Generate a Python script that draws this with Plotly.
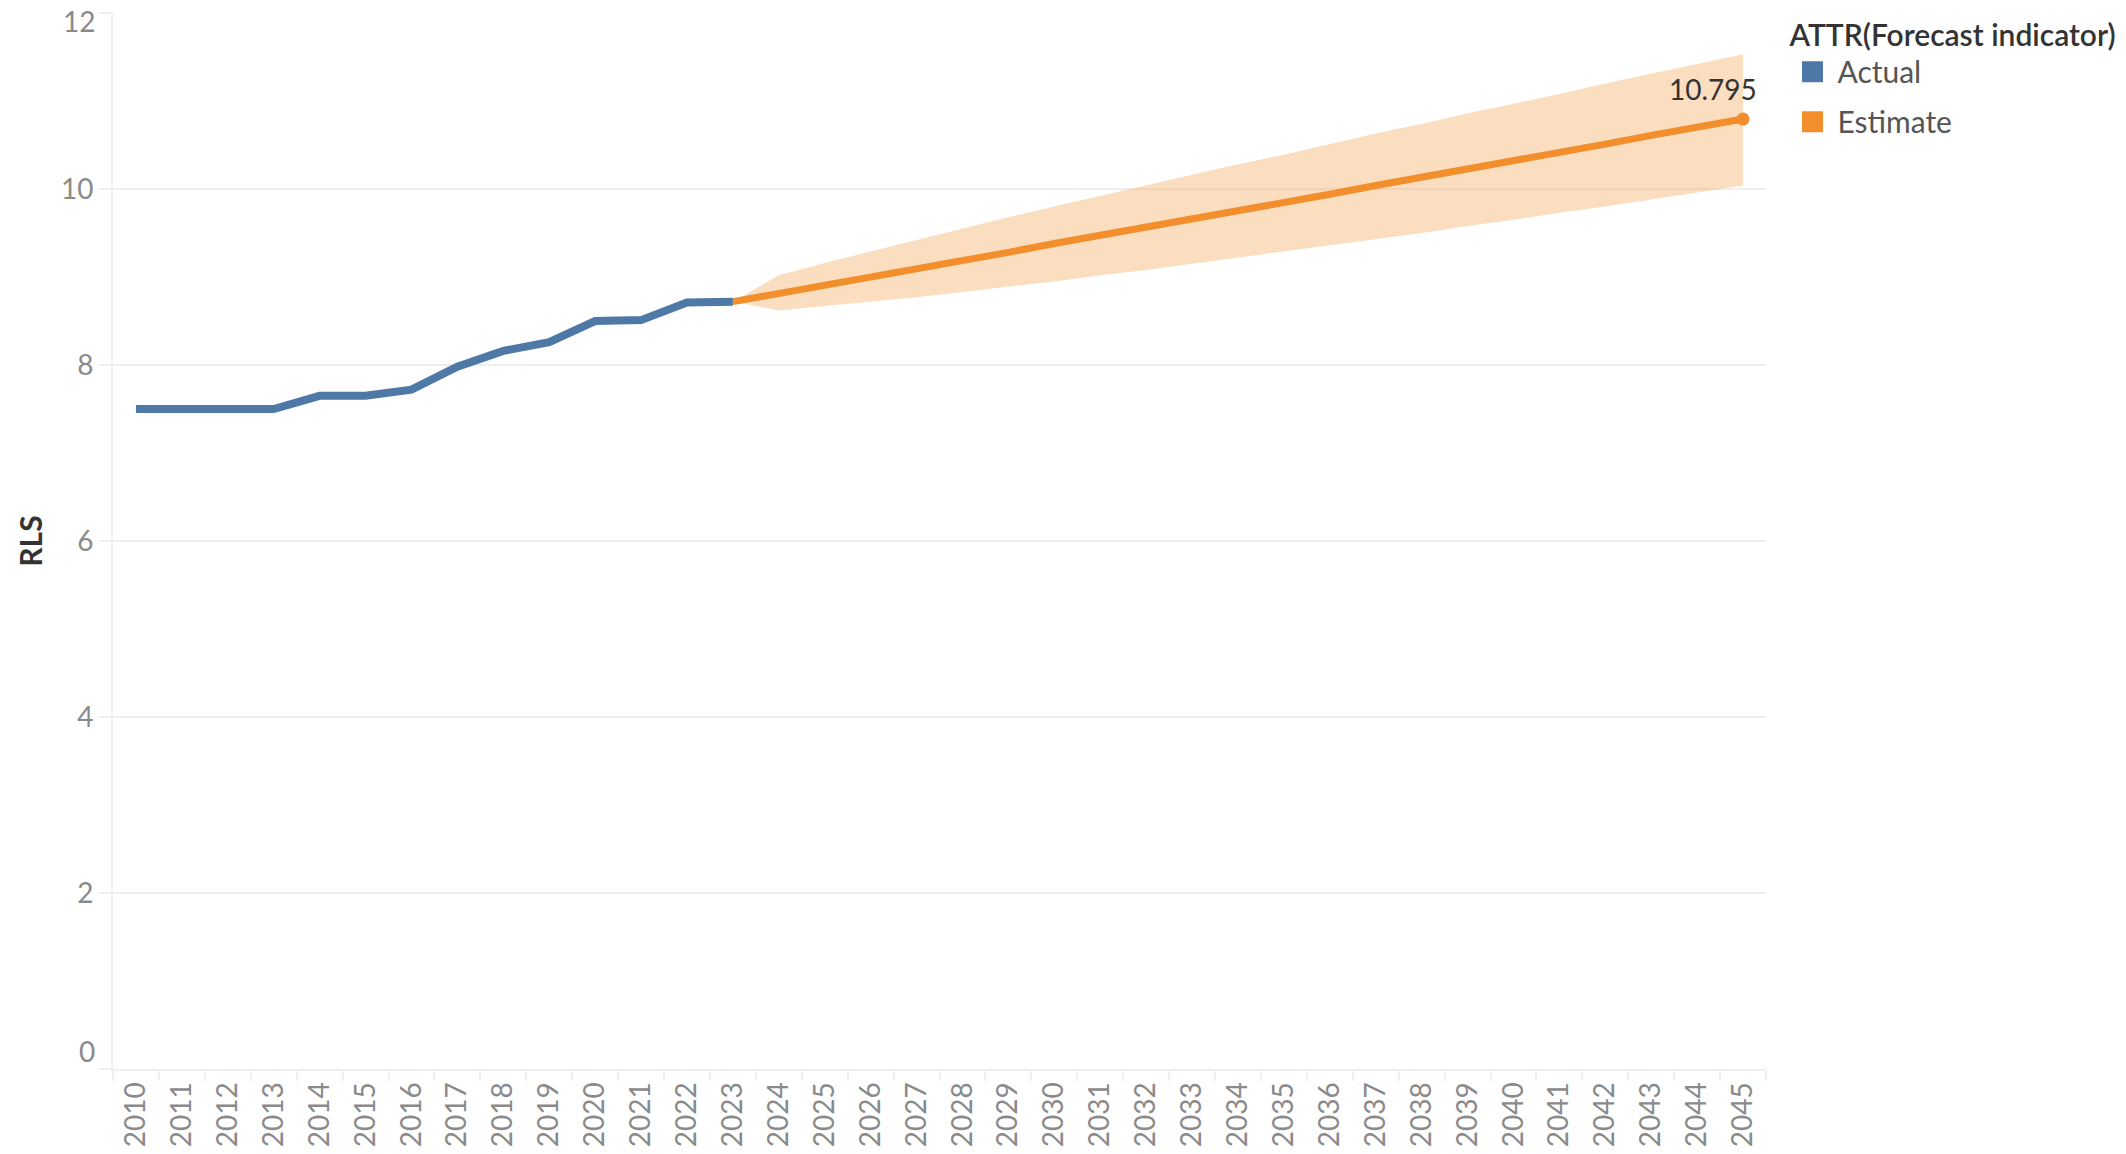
import plotly.graph_objects as go

years = [str(y) for y in range(2010, 2046)]

actual_years = [str(y) for y in range(2010, 2024)]
actual_vals = [7.50, 7.50, 7.50, 7.50, 7.65, 7.65, 7.72, 7.98, 8.16, 8.26, 8.50, 8.51, 8.71, 8.72]

est_years = [str(y) for y in range(2023, 2046)]
est_vals = [8.72, 8.81, 8.91, 9.00, 9.09, 9.19, 9.28, 9.38, 9.47, 9.57, 9.66, 9.76,
            9.85, 9.94, 10.04, 10.13, 10.23, 10.32, 10.42, 10.51, 10.61, 10.70, 10.795]
upper_vals = [8.72, 9.02, 9.16, 9.29, 9.42, 9.55, 9.68, 9.80, 9.92, 10.04, 10.16, 10.28,
              10.39, 10.51, 10.63, 10.74, 10.86, 10.97, 11.08, 11.20, 11.31, 11.42, 11.53]
lower_vals = [8.72, 8.62, 8.67, 8.72, 8.77, 8.83, 8.89, 8.95, 9.02, 9.08, 9.15, 9.22,
              9.29, 9.36, 9.43, 9.50, 9.58, 9.65, 9.73, 9.80, 9.88, 9.96, 10.04]

y_ticks = [0, 2, 4, 6, 8, 10, 12]

BLUE = "#4E79A7"
ORANGE = "#F28E2B"
BAND = "rgba(242,142,43,0.30)"
GRID = "#EFEFEF"
TICKC = "#8A8A8A"
FONT = "Lato"

fig = go.Figure()

# forecast band
fig.add_trace(go.Scatter(x=est_years, y=lower_vals, mode="lines", line=dict(width=0),
                         showlegend=False, hoverinfo="skip"))
fig.add_trace(go.Scatter(x=est_years, y=upper_vals, mode="lines", line=dict(width=0),
                         fill="tonexty", fillcolor=BAND, showlegend=False, hoverinfo="skip"))

# estimate line
fig.add_trace(go.Scatter(x=est_years, y=est_vals, mode="lines",
                         line=dict(color=ORANGE, width=7), showlegend=False))
# actual line
fig.add_trace(go.Scatter(x=actual_years, y=actual_vals, mode="lines",
                         line=dict(color=BLUE, width=8), showlegend=False))
# end point
fig.add_trace(go.Scatter(x=[est_years[-1]], y=[est_vals[-1]], mode="markers",
                         marker=dict(color=ORANGE, size=13), showlegend=False))

# legend entries (square swatches)
fig.add_trace(go.Scatter(x=[None], y=[None], mode="markers", name="Actual", legendgroup="a",
                         marker=dict(symbol="square", size=16, color=BLUE,
                                     line=dict(color=BLUE, width=5))))
fig.add_trace(go.Scatter(x=[None], y=[None], mode="markers", name="Estimate", legendgroup="e",
                         marker=dict(symbol="square", size=16, color=ORANGE,
                                     line=dict(color=ORANGE, width=5))))

fig.add_annotation(x=len(years) - 1, y=est_vals[-1], xref="x", yref="y",
                   text=f"{est_vals[-1]:.3f}", showarrow=False, xanchor="right",
                   yanchor="middle", xshift=16, yshift=30,
                   font=dict(family=FONT, size=28, color="#333333"))

# edge y-labels (shifted inward like the original)
fig.add_annotation(x=0, y=y_ticks[-1], xref="paper", yref="y", text=str(y_ticks[-1]),
                   showarrow=False, xanchor="right", yanchor="middle", xshift=-16, yshift=-8,
                   font=dict(family=FONT, size=28, color=TICKC))
fig.add_annotation(x=0, y=y_ticks[0], xref="paper", yref="y", text=str(y_ticks[0]),
                   showarrow=False, xanchor="right", yanchor="middle", xshift=-16, yshift=18,
                   font=dict(family=FONT, size=28, color=TICKC))

fig.update_layout(
    width=2126, height=1154,
    margin=dict(l=113, r=360, t=7, b=83),
    plot_bgcolor="white", paper_bgcolor="white",
    font=dict(family=FONT, size=28, color="#555555"),
    showlegend=True,
    legend=dict(
        title=dict(text="ATTR(Forecast indicator)",
                   font=dict(family=FONT, size=30, color="#333333", weight=600)),
        x=1.013, xanchor="left", y=1.006, yanchor="top",
        font=dict(family=FONT, size=30, color="#555555"),
        tracegroupgap=8, itemwidth=40, bgcolor="rgba(0,0,0,0)",
    ),
    xaxis=dict(
        type="category", categoryorder="array", categoryarray=years,
        tickmode="array", tickvals=years, ticktext=years,
        range=[-0.5, len(years) - 0.5],
        tickangle=-90, tickson="boundaries", ticks="outside", ticklen=10,
        tickcolor=GRID, tickwidth=2,
        showgrid=False, showline=True, linecolor=GRID, linewidth=2,
        tickfont=dict(family=FONT, size=28, color=TICKC),
        zeroline=False,
    ),
    yaxis=dict(
        range=[0, 12], tickmode="array", tickvals=y_ticks,
        ticktext=["" if v in (y_ticks[0], y_ticks[-1]) else str(v) for v in y_ticks],
        ticks="outside", ticklen=12, tickcolor=GRID, tickwidth=2,
        showgrid=True, gridcolor=GRID, gridwidth=2,
        showline=True, linecolor=GRID, linewidth=2, zeroline=False,
        tickfont=dict(family=FONT, size=28, color=TICKC),
        title=dict(text="RLS", standoff=9,
                   font=dict(family=FONT, size=30, color="#333333", weight=700)),
    ),
)

fig.write_html("out.html", include_plotlyjs=True, config={"displayModeBar": False},
               post_script="document.body.style.margin='0';document.body.style.overflow='hidden';")
